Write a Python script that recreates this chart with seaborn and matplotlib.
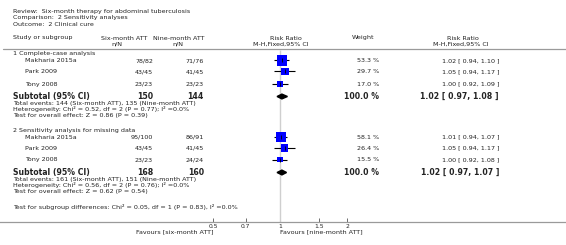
import numpy as np
import pandas as pd
import matplotlib
matplotlib.use("Agg")
import matplotlib.pyplot as plt
import matplotlib.transforms as mtransforms
import seaborn as sns

# ── Data ──────────────────────────────────────────────────────────────────────
studies   = ["Makharia 2015a", "Park 2009", "Tony 2008"]
g1_six    = ["78/82", "43/45", "23/23"]
g1_nine   = ["71/76", "41/45", "23/23"]
g1_rr     = [1.02, 1.05, 1.00]
g1_lo     = [0.94, 0.94, 0.92]
g1_hi     = [1.10, 1.17, 1.09]
g1_wt     = [53.3, 29.7, 17.0]
g1_sub    = (1.02, 0.97, 1.08)

g2_six    = ["95/100", "43/45", "23/23"]
g2_nine   = ["86/91", "41/45", "24/24"]
g2_rr     = [1.01, 1.05, 1.00]
g2_lo     = [0.94, 0.94, 0.92]
g2_hi     = [1.07, 1.17, 1.08]
g2_wt     = [58.1, 26.4, 15.5]
g2_sub    = (1.02, 0.97, 1.07)

xticks    = [0.5, 0.7, 1, 1.5, 2]

# ── Layout (pixel rows, figure 566x245) ───────────────────────────────────────
W, H = 566, 245
X1, PX_PER_LOG2 = 280, 67
AXIS_Y = 222
TXT = "#222222"
FS = 4.6

sns.set_theme(style="white")
plt.rcParams["font.family"] = ["DejaVu Sans"]

fig = plt.figure(figsize=(W / 100, H / 100), dpi=100)
ax = fig.add_axes([0, (H - AXIS_Y) / H, 1, AXIS_Y / H])
ax.set_xscale("log")
ax.set_xlim(2 ** (-X1 / PX_PER_LOG2), 2 ** ((W - X1) / PX_PER_LOG2))
ax.set_ylim(AXIS_Y, 0)
for s in ["top", "left", "right"]:
    ax.spines[s].set_visible(False)
ax.spines["bottom"].set_color("#9a9a9a")
ax.spines["bottom"].set_linewidth(0.9)
ax.grid(False)

tr = mtransforms.blended_transform_factory(fig.transFigure, ax.transData)


def t(x, y, s, ha="left", bold=False, size=FS):
    ax.text(x / W, y, s, transform=tr, ha=ha, va="center", fontsize=size,
            color=TXT, fontweight="bold" if bold else "normal", clip_on=False)


# Header
t(13, 11, "Review:  Six-month therapy for abdominal tuberculosis")
t(13, 17.5, "Comparison:  2 Sensitivity analyses")
t(13, 24, "Outcome:  2 Clinical cure")
t(13, 38, "Study or subgroup")
t(124, 38, "Six-month ATT", ha="center")
t(117, 44, "n/N", ha="center")
t(179, 38, "Nine-month ATT", ha="center")
t(178, 44, "n/N", ha="center")
t(286, 38, "Risk Ratio", ha="center")
t(281, 44, "M-H,Fixed,95% CI", ha="center")
t(363, 38, "Weight", ha="center")
t(463, 38, "Risk Ratio", ha="center")
t(461, 44, "M-H,Fixed,95% CI", ha="center")
ax.axhline(49, color="#9a9a9a", lw=0.9, xmin=3 / W, xmax=1)

# reference line at RR = 1
ax.vlines(1, 50, AXIS_Y, color="#cfcfcf", lw=1.0)


def group(title, ytitle, rows_y, six, nine, rr, lo, hi, wt, sub, six_tot, nine_tot,
          sub_y, events, het, overall):
    t(13, ytitle, title)
    df = pd.DataFrame({"y": rows_y, "rr": rr, "lo": lo, "hi": hi, "wt": wt})
    ax.hlines(df["y"], df["lo"], df["hi"], color="black", lw=0.8, zorder=2)
    sns.scatterplot(data=df, x="rr", y="y", size="wt", sizes=(0, 100),
                    size_norm=(0, 100), marker="s", color="#0000ff",
                    edgecolor="#0000ff", linewidth=0, legend=False, ax=ax, zorder=3)
    ax.scatter(df["rr"], df["y"], marker="|", s=6, color="black", lw=0.6, zorder=4)
    for i, name in enumerate(studies):
        y = rows_y[i]
        t(25, y, name)
        t(153, y, six[i], ha="right")
        t(204, y, nine[i], ha="right")
        t(379, y, f"{wt[i]:.1f} %", ha="right")
        t(499, y, f"{rr[i]:.2f} [ {lo[i]:.2f}, {hi[i]:.2f} ]", ha="right")
    est, slo, shi = sub
    ax.fill([slo, est, shi, est], [sub_y, sub_y - 2.4, sub_y, sub_y + 2.4],
            color="black", zorder=3)
    t(13, sub_y, "Subtotal (95% CI)", bold=True, size=5.6)
    t(153, sub_y, six_tot, ha="right", bold=True, size=5.6)
    t(204, sub_y, nine_tot, ha="right", bold=True, size=5.6)
    t(379, sub_y, "100.0 %", ha="right", bold=True, size=5.6)
    t(499, sub_y, f"{est:.2f} [ {slo:.2f}, {shi:.2f} ]", ha="right", bold=True, size=5.6)
    t(13, sub_y + 6.8, events)
    t(13, sub_y + 12.8, het)
    t(13, sub_y + 19.3, overall)


group("1 Complete-case analysis", 53.5, [60.5, 71.5, 84], g1_six, g1_nine,
      g1_rr, g1_lo, g1_hi, g1_wt, g1_sub, "150", "144", 96.5,
      "Total events: 144 (Six-month ATT), 135 (Nine-month ATT)",
      "Heterogeneity: Chi² = 0.52, df = 2 (P = 0.77); I² =0.0%",
      "Test for overall effect: Z = 0.86 (P = 0.39)")

group("2 Sensitivity analysis for missing data", 130, [137, 148, 159.5], g2_six,
      g2_nine, g2_rr, g2_lo, g2_hi, g2_wt, g2_sub, "168", "160", 172.5,
      "Total events: 161 (Six-month ATT), 151 (Nine-month ATT)",
      "Heterogeneity: Chi² = 0.56, df = 2 (P = 0.76); I² =0.0%",
      "Test for overall effect: Z = 0.62 (P = 0.54)")

t(13, 206.5, "Test for subgroup differences: Chi² = 0.05, df = 1 (P = 0.83), I² =0.0%")

# axis ticks (set after seaborn so they are not overridden)
ax.set_xlabel("")
ax.set_ylabel("")
ax.set_yticks([])
ax.set_xlim(2 ** (-X1 / PX_PER_LOG2), 2 ** ((W - X1) / PX_PER_LOG2))
ax.set_ylim(AXIS_Y, 0)
ax.set_xticks(xticks)
ax.set_xticklabels([f"{t_:g}" for t_ in xticks])
ax.xaxis.set_minor_locator(matplotlib.ticker.NullLocator())
ax.tick_params(axis="x", direction="in", length=3, width=0.6, color="#555555",
               labelsize=4.3, labelcolor=TXT, pad=1.5, bottom=True)

# favours labels below the axis
fav_tr = mtransforms.blended_transform_factory(ax.transData, fig.transFigure)
ax.text(0.5, (H - 232) / H, "Favours [six-month ATT]", transform=fav_tr,
        ha="right", va="center", fontsize=FS, color=TXT)
ax.text(1, (H - 232) / H, "Favours [nine-month ATT]", transform=fav_tr,
        ha="left", va="center", fontsize=FS, color=TXT)

fig.savefig("out.png", dpi=100, facecolor="white")
